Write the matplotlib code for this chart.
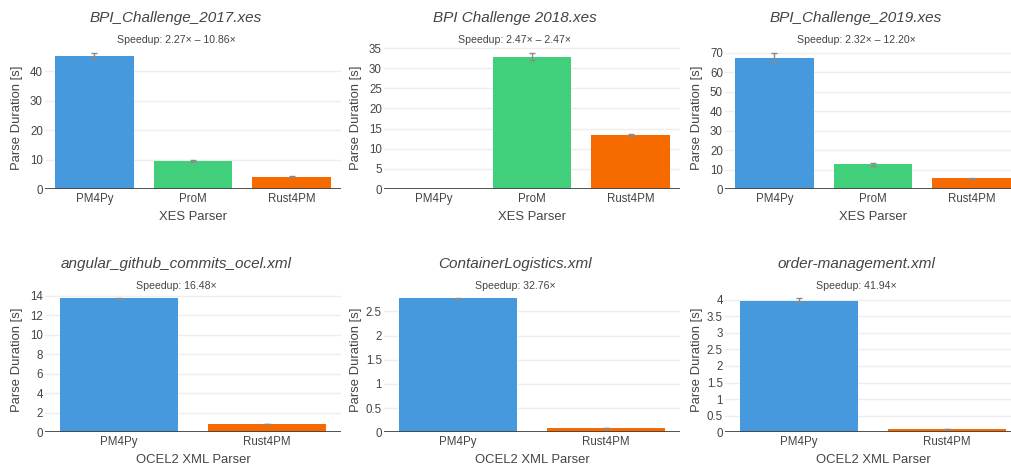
import numpy as np
import matplotlib.pyplot as plt
from matplotlib.ticker import FuncFormatter

plt.rcParams['font.family'] = ['Liberation Sans', 'DejaVu Sans']

# data
titles = ['BPI_Challenge_2017.xes', 'BPI Challenge 2018.xes', 'BPI_Challenge_2019.xes',
          'angular_github_commits_ocel.xml', 'ContainerLogistics.xml', 'order-management.xml']
speedups = ['Speedup: 2.27\u00d7 \u2013 10.86\u00d7', 'Speedup: 2.47\u00d7 \u2013 2.47\u00d7',
            'Speedup: 2.32\u00d7 \u2013 12.20\u00d7', 'Speedup: 16.48\u00d7',
            'Speedup: 32.76\u00d7', 'Speedup: 41.94\u00d7']
xes_parsers = ['PM4Py', 'ProM', 'Rust4PM']
ocel_parsers = ['PM4Py', 'Rust4PM']

bpi2017 = [45.1, 9.4, 4.2]
bpi2017_err = [0.9, 0.3, 0.2]
bpi2018 = [np.nan, 32.8, 13.3]
bpi2018_err = [0, 0.85, 0.4]
bpi2019 = [67.5, 12.8, 5.5]
bpi2019_err = [2.3, 0.8, 0.3]
angular = [13.72, 0.85]
angular_err = [0.05, 0.05]
container = [2.775, 0.088]
container_err = [0.01, 0.005]
order = [3.97, 0.095]
order_err = [0.07, 0.005]

values = [bpi2017, bpi2018, bpi2019, angular, container, order]
errors = [bpi2017_err, bpi2018_err, bpi2019_err, angular_err, container_err, order_err]
ymax = [48.5, 35.5, 73.6, 14.37, 2.9, 4.23]
ysteps = [10, 5, 10, 2, 0.5, 0.5]

colors = {'PM4Py': '#4699dd', 'ProM': '#42cf7c', 'Rust4PM': '#f76a00'}
txt = '#444444'

W, H = 1011, 468
fig = plt.figure(figsize=(W / 100, H / 100), dpi=100)

lefts = [45, 384, 725]
rows = [(46, 189), (292, 432.3)]
ylab_shift = [0, -2]
axw = 296

for k in range(6):
    r, c = divmod(k, 3)
    top, bottom = rows[r]
    left = lefts[c]
    ax = fig.add_axes([left / W, 1 - bottom / H, axw / W, (bottom - top) / H])
    cats = xes_parsers if r == 0 else ocel_parsers
    x = np.arange(len(cats))
    vals = values[k]
    errs = errors[k]
    ax.bar(x, vals, width=0.8, color=[colors[p] for p in cats], zorder=2)
    for xi, v, e in zip(x, vals, errs):
        if not np.isnan(v):
            ax.errorbar(xi, v, yerr=e, color='#8a8a8a', lw=1, capsize=2.5,
                        capthick=1, zorder=3)
    ax.set_xlim(-0.5, len(cats) - 0.5)
    ax.set_ylim(0, ymax[k])
    ax.set_yticks(np.arange(0, ymax[k], ysteps[k]))
    ax.yaxis.set_major_formatter(FuncFormatter(lambda v, p: '{:g}'.format(v)))
    ax.set_xticks(x)
    ax.set_xticklabels(cats)
    ax.grid(axis='y', color='#eeeeee', lw=1, zorder=0)
    ax.axhline(0, color='#444444', lw=1.3, zorder=4)
    for s in ax.spines.values():
        s.set_visible(False)
    ax.tick_params(length=0, labelsize=8.3, labelcolor=txt)
    ax.tick_params(axis='y', pad=1.5)
    ax.tick_params(axis='x', pad=3)

    cx = left + axw / 2
    fig.text((left + 131) / W, 1 - (top - 28) / H, titles[k], ha='center', va='center',
             fontsize=11, style='italic', color=txt)
    fig.text((left + 131) / W, 1 - (top - 6) / H, speedups[k], ha='center', va='center',
             fontsize=7.6, color=txt)
    fig.text(cx / W, 1 - (bottom + 28) / H, 'XES Parser' if r == 0 else 'OCEL2 XML Parser',
             ha='center', va='center', fontsize=9.4, color=txt)
    fig.text((left - 28) / W, 1 - ((top + bottom) / 2 + ylab_shift[r]) / H, 'Parse Duration [s]',
             ha='center', va='center', rotation=90, fontsize=9.4, color=txt)

fig.savefig('out.png', dpi=100)
